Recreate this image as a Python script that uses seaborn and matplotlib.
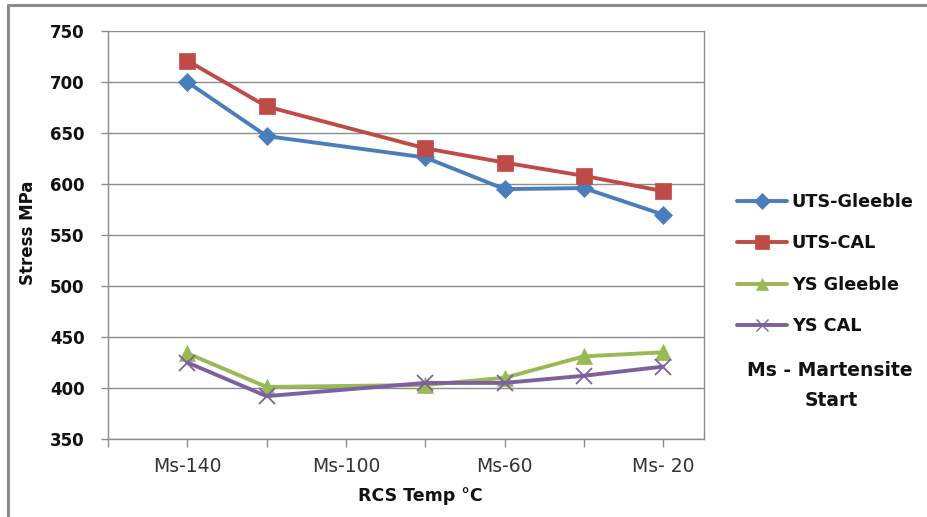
import matplotlib
matplotlib.use("Agg")
import matplotlib.pyplot as plt
from matplotlib.lines import Line2D
import seaborn as sns
import pandas as pd

# ---- data ----
temps = [-140, -120, -80, -60, -40, -20]
uts_gleeble = [700, 647, 626, 595, 596, 570]
uts_cal = [721, 676, 635, 621, 608, 593]
ys_gleeble = [434, 401, 403, 410, 431, 435]
ys_cal = [425, 392, 405, 405, 412, 421]
series_names = ["UTS-Gleeble", "UTS-CAL", "YS Gleeble", "YS CAL"]
tick_values = [-160, -140, -120, -100, -80, -60, -40, -20]
tick_labels = ["", "Ms-140", "", "Ms-100", "", "Ms-60", "", "Ms- 20"]
y_ticks = [350, 400, 450, 500, 550, 600, 650, 700, 750]

rows = []
for name, vals in zip(series_names, [uts_gleeble, uts_cal, ys_gleeble, ys_cal]):
    for t, v in zip(temps, vals):
        rows.append({"temp": t, "stress": v, "series": name})
df = pd.DataFrame(rows)

sns.set_theme(style="white")
plt.rcParams["font.family"] = ["DejaVu Sans"]

palette = {"UTS-Gleeble": "#4A7EBB", "UTS-CAL": "#BE4B48",
           "YS Gleeble": "#98B954", "YS CAL": "#7D60A0"}
markers = {"UTS-Gleeble": "D", "UTS-CAL": "s", "YS Gleeble": "^", "YS CAL": "x"}
msize = {"UTS-Gleeble": 9.5, "UTS-CAL": 12, "YS Gleeble": 11, "YS CAL": 11}

fig = plt.figure(figsize=(9.28, 5.17), dpi=100)
ax = fig.add_axes([108/928, 1-439/517, (704-108)/928, (439-31)/517])

handles = []
for name in series_names:
    sub = df[df["series"] == name]
    sns.lineplot(data=sub, x="temp", y="stress", ax=ax, color=palette[name],
                 linewidth=2.8, marker=markers[name], markersize=msize[name],
                 markeredgecolor=palette[name], markeredgewidth=1.3 if name == "YS CAL" else 0.5,
                 legend=False, label=name)
    handles.append(Line2D([0], [0], color=palette[name], linewidth=2.8,
                          marker=markers[name], markersize=msize[name] * 0.85,
                          markeredgecolor=palette[name],
                          markeredgewidth=1.0 if name == "YS CAL" else 0.5))

ax.set_xlim(-160, -9.7)
ax.set_ylim(350, 750)
ax.set_yticks(y_ticks)
ax.set_yticklabels([str(v) for v in y_ticks], fontsize=12, fontweight="bold", color="#111111")
ax.set_xticks(tick_values)
ax.set_xticklabels(tick_labels, fontsize=13.5, color="#333333")
ax.grid(axis="y", color="#8C8C8C", linewidth=1)
ax.grid(axis="x", visible=False)
ax.set_axisbelow(True)
for s in ["left", "bottom", "right"]:
    ax.spines[s].set_visible(True)
    ax.spines[s].set_color("#8C8C8C")
    ax.spines[s].set_linewidth(1)
ax.spines["top"].set_visible(False)
ax.tick_params(axis="y", length=5, width=1, color="#8C8C8C", pad=12, left=True)
ax.tick_params(axis="x", length=6, width=1, color="#8C8C8C", pad=7, bottom=True)

ax.set_xlabel("")
ax.set_ylabel("")
fig.text(28/928, 1-233/517, "Stress MPa", rotation=90, ha="center", va="center",
         fontsize=12, fontweight="bold", color="#111111")
fig.text(420/928, 1-496/517, "RCS Temp °C", ha="center", va="center",
         fontsize=12.5, fontweight="bold", color="#111111")

leg = fig.legend(handles=handles, labels=series_names, loc="upper left",
                 bbox_to_anchor=(737/928, 1-193/517), frameon=False,
                 prop={"size": 12.7, "weight": "bold"}, handlelength=2.85,
                 handletextpad=0.25, labelspacing=1.33, borderpad=0, borderaxespad=0)
for t in leg.get_texts():
    t.set_color("#111111")

fig.text(830/928, 1-370/517, "Ms - Martensite", ha="center", va="center",
         fontsize=13.5, fontweight="bold", color="#111111")
fig.text(831/928, 1-400/517, "Start", ha="center", va="center",
         fontsize=13.5, fontweight="bold", color="#111111")

# outer chart frame (top and left visible)
fig.add_artist(Line2D([7.5/928, 7.5/928], [0, 1-5/517], color="#8C8C8C", linewidth=2.2,
                      transform=fig.transFigure))
fig.add_artist(Line2D([7.5/928, 1], [1-5/517, 1-5/517], color="#8C8C8C", linewidth=2.2,
                      transform=fig.transFigure))

fig.savefig("out.png", dpi=100)
